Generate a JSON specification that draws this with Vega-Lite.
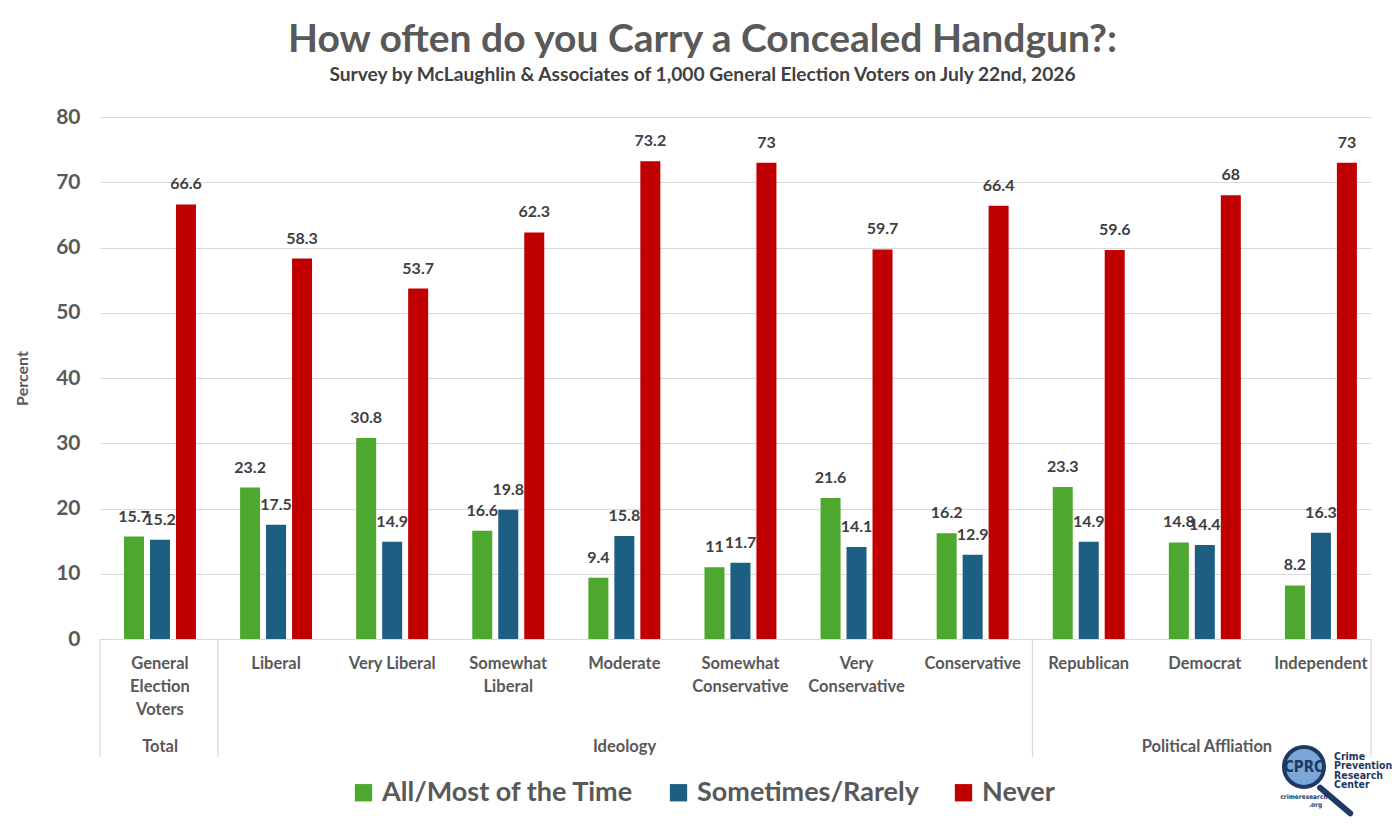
{
  "$schema": "https://vega.github.io/schema/vega-lite/v6.json",
  "width": 1271,
  "height": 522,
  "autosize": "none",
  "padding": {"left": 100, "top": 117, "right": 29, "bottom": 187},
  "config": {"view": {"stroke": null}, "font": "Lato"},
  "title": {
    "text": "How often do you Carry a Concealed Handgun?:",
    "subtitle": "Survey by McLaughlin & Associates of 1,000 General Election Voters on July 22nd, 2026",
    "fontSize": 39,
    "fontWeight": "bold",
    "color": "#595959",
    "subtitleFontSize": 19.2,
    "subtitleFontWeight": "bold",
    "subtitleColor": "#404040",
    "subtitlePadding": 6,
    "anchor": "middle",
    "dx": -33,
    "offset": 21
  },
  "datasets": {
    "bars": [
      {"cat": "General Election Voters", "series": "All/Most of the Time", "value": 15.7},
      {"cat": "General Election Voters", "series": "Sometimes/Rarely", "value": 15.2},
      {"cat": "General Election Voters", "series": "Never", "value": 66.6},
      {"cat": "Liberal", "series": "All/Most of the Time", "value": 23.2},
      {"cat": "Liberal", "series": "Sometimes/Rarely", "value": 17.5},
      {"cat": "Liberal", "series": "Never", "value": 58.3},
      {"cat": "Very Liberal", "series": "All/Most of the Time", "value": 30.8},
      {"cat": "Very Liberal", "series": "Sometimes/Rarely", "value": 14.9},
      {"cat": "Very Liberal", "series": "Never", "value": 53.7},
      {"cat": "Somewhat Liberal", "series": "All/Most of the Time", "value": 16.6},
      {"cat": "Somewhat Liberal", "series": "Sometimes/Rarely", "value": 19.8},
      {"cat": "Somewhat Liberal", "series": "Never", "value": 62.3},
      {"cat": "Moderate", "series": "All/Most of the Time", "value": 9.4},
      {"cat": "Moderate", "series": "Sometimes/Rarely", "value": 15.8},
      {"cat": "Moderate", "series": "Never", "value": 73.2},
      {"cat": "Somewhat Conservative", "series": "All/Most of the Time", "value": 11},
      {"cat": "Somewhat Conservative", "series": "Sometimes/Rarely", "value": 11.7},
      {"cat": "Somewhat Conservative", "series": "Never", "value": 73},
      {"cat": "Very Conservative", "series": "All/Most of the Time", "value": 21.6},
      {"cat": "Very Conservative", "series": "Sometimes/Rarely", "value": 14.1},
      {"cat": "Very Conservative", "series": "Never", "value": 59.7},
      {"cat": "Conservative", "series": "All/Most of the Time", "value": 16.2},
      {"cat": "Conservative", "series": "Sometimes/Rarely", "value": 12.9},
      {"cat": "Conservative", "series": "Never", "value": 66.4},
      {"cat": "Republican", "series": "All/Most of the Time", "value": 23.3},
      {"cat": "Republican", "series": "Sometimes/Rarely", "value": 14.9},
      {"cat": "Republican", "series": "Never", "value": 59.6},
      {"cat": "Democrat", "series": "All/Most of the Time", "value": 14.8},
      {"cat": "Democrat", "series": "Sometimes/Rarely", "value": 14.4},
      {"cat": "Democrat", "series": "Never", "value": 68},
      {"cat": "Independent", "series": "All/Most of the Time", "value": 8.2},
      {"cat": "Independent", "series": "Sometimes/Rarely", "value": 16.3},
      {"cat": "Independent", "series": "Never", "value": 73}
    ],
    "cats": [
      {"cat": "General Election Voters", "lab": "General|Election|Voters"},
      {"cat": "Liberal", "lab": "Liberal"},
      {"cat": "Very Liberal", "lab": "Very Liberal"},
      {"cat": "Somewhat Liberal", "lab": "Somewhat|Liberal"},
      {"cat": "Moderate", "lab": "Moderate"},
      {"cat": "Somewhat Conservative", "lab": "Somewhat|Conservative"},
      {"cat": "Very Conservative", "lab": "Very|Conservative"},
      {"cat": "Conservative", "lab": "Conservative"},
      {"cat": "Republican", "lab": "Republican"},
      {"cat": "Democrat", "lab": "Democrat"},
      {"cat": "Independent", "lab": "Independent"}
    ],
    "groups": [
      {"g": "Total", "pos": 0.52},
      {"g": "Ideology", "pos": 4.54},
      {"g": "Political Affliation", "pos": 9.58}
    ],
    "dividers": [
      {"pos": 0},
      {"pos": 1.02},
      {"pos": 8.07},
      {"pos": 11}
    ],
    "logo": [
      {"pos": 10.42, "lv": -19.6, "hx": 10.56, "hy": -22.8, "pos2": 10.82, "lv2": -26.7}
    ],
    "logoname": [
      {"pos": 10.68, "lv": -17.3, "t": "Crime|Prevention|Research|Center"}
    ],
    "logomark": [
      {"pos": 10.42, "lv": -19.6, "t": "CPRC", "fs": 15},
      {"pos": 10.42, "lv": -24.2, "t": "crimeresearch", "fs": 6.5},
      {"pos": 10.52, "lv": -25.4, "t": ".org", "fs": 6.5}
    ]
  },
  "layer": [
    {
      "data": {"name": "bars"},
      "mark": {"type": "bar"},
      "encoding": {
        "x": {"field": "cat", "type": "nominal", "sort": null, "scale": {"type": "band", "paddingInner": 0.38, "paddingOuter": 0.164, "align": 0.63}, "axis": null},
        "xOffset": {"field": "series", "type": "nominal", "sort": ["All/Most of the Time", "Sometimes/Rarely", "Never"], "scale": {"paddingInner": 0.23, "paddingOuter": 0}},
        "y": {
          "field": "value",
          "type": "quantitative",
          "scale": {"domain": [0, 80], "nice": false},
          "axis": {
            "title": "Percent",
            "titleFontSize": 16,
            "titleFontWeight": "bold",
            "titleColor": "#595959",
            "titlePadding": 25,
            "values": [0, 10, 20, 30, 40, 50, 60, 70, 80],
            "labelFontSize": 21,
            "labelFontWeight": "bold",
            "labelColor": "#595959",
            "labelPadding": 20,
            "ticks": false,
            "domain": false,
            "gridColor": "#d9d9d9",
            "gridWidth": 1.2
          }
        },
        "color": {
          "field": "series",
          "type": "nominal",
          "scale": {"domain": ["All/Most of the Time", "Sometimes/Rarely", "Never"], "range": ["#4ea72e", "#1c5f82", "#c00000"]},
          "legend": {
            "orient": "none",
            "legendX": 250,
            "legendY": 662,
            "direction": "horizontal",
            "title": null,
            "symbolType": "square",
            "symbolSize": 300,
            "symbolStrokeWidth": 0,
            "labelFontSize": 27,
            "labelFontWeight": "bold",
            "labelColor": "#595959",
            "labelLimit": 0,
            "labelOffset": 5,
            "columnPadding": 31
          }
        }
      }
    },
    {
      "data": {"name": "bars"},
      "mark": {"type": "text", "baseline": "bottom", "dy": -12, "fontSize": 16, "fontWeight": "bold", "color": "#404040"},
      "encoding": {
        "x": {"field": "cat", "type": "nominal", "sort": null, "scale": {"type": "band", "paddingInner": 0.38, "paddingOuter": 0.164, "align": 0.63}, "axis": null},
        "xOffset": {"field": "series", "type": "nominal", "sort": ["All/Most of the Time", "Sometimes/Rarely", "Never"], "scale": {"type": "band", "paddingInner": 0.23, "paddingOuter": 0}},
        "y": {"field": "value", "type": "quantitative", "scale": {"domain": [0, 80], "nice": false}},
        "text": {"field": "value", "type": "quantitative"}
      }
    },
    {
      "data": {"name": "cats"},
      "mark": {"type": "text", "baseline": "top", "lineBreak": "|", "lineHeight": 23, "fontSize": 16.5, "fontWeight": "bold", "color": "#595959"},
      "encoding": {
        "x": {"field": "cat", "type": "nominal", "sort": null, "scale": {"type": "band", "paddingInner": 0.38, "paddingOuter": 0.164, "align": 0.63}, "axis": null},
        "y": {"datum": -2.6, "type": "quantitative", "scale": {"domain": [0, 80], "nice": false}},
        "text": {"field": "lab"}
      }
    },
    {
      "data": {"name": "dividers"},
      "mark": {"type": "rule", "color": "#d9d9d9", "strokeWidth": 1.2},
      "encoding": {
        "x": {"field": "pos", "type": "quantitative", "scale": {"domain": [0, 11], "nice": false, "zero": false}, "axis": null},
        "y": {"datum": 0, "type": "quantitative", "scale": {"domain": [0, 80], "nice": false}},
        "y2": {"datum": -18.1}
      }
    },
    {
      "data": {"name": "groups"},
      "mark": {"type": "text", "baseline": "middle", "fontSize": 16.5, "fontWeight": "bold", "color": "#595959"},
      "encoding": {
        "x": {"field": "pos", "type": "quantitative", "scale": {"domain": [0, 11], "nice": false, "zero": false}, "axis": null},
        "y": {"datum": -16.5, "type": "quantitative", "scale": {"domain": [0, 80], "nice": false}},
        "text": {"field": "g"}
      }
    },
    {
      "data": {"name": "logo"},
      "mark": {"type": "rule", "color": "#1f3864", "strokeWidth": 6, "strokeCap": "round"},
      "encoding": {
        "x": {"field": "hx", "type": "quantitative", "scale": {"domain": [0, 11], "nice": false, "zero": false}, "axis": null},
        "x2": {"field": "pos2"},
        "y": {"field": "hy", "type": "quantitative", "scale": {"domain": [0, 80], "nice": false}},
        "y2": {"field": "lv2"}
      }
    },
    {
      "data": {"name": "logo"},
      "mark": {"type": "point", "shape": "circle", "filled": true, "fill": "#7ba7d6", "stroke": "#1f3864", "strokeWidth": 4, "size": 1600, "opacity": 1},
      "encoding": {
        "x": {"field": "pos", "type": "quantitative", "scale": {"domain": [0, 11], "nice": false, "zero": false}, "axis": null},
        "y": {"field": "lv", "type": "quantitative", "scale": {"domain": [0, 80], "nice": false}}
      }
    },
    {
      "data": {"name": "logomark"},
      "mark": {"type": "text", "baseline": "middle", "align": "center", "fontWeight": "bold", "color": "#1f3864", "font": "DejaVu Sans Condensed, Liberation Sans, sans-serif"},
      "encoding": {
        "x": {"field": "pos", "type": "quantitative", "scale": {"domain": [0, 11], "nice": false, "zero": false}, "axis": null},
        "y": {"field": "lv", "type": "quantitative", "scale": {"domain": [0, 80], "nice": false}},
        "text": {"field": "t"},
        "size": {"field": "fs", "type": "quantitative", "scale": null, "legend": null}
      }
    },
    {
      "data": {"name": "logoname"},
      "mark": {"type": "text", "baseline": "top", "align": "left", "lineBreak": "|", "lineHeight": 9.5, "fontSize": 10.5, "fontWeight": "bold", "color": "#1f3864", "font": "DejaVu Sans Condensed, Liberation Sans, sans-serif"},
      "encoding": {
        "x": {"field": "pos", "type": "quantitative", "scale": {"domain": [0, 11], "nice": false, "zero": false}, "axis": null},
        "y": {"field": "lv", "type": "quantitative", "scale": {"domain": [0, 80], "nice": false}},
        "text": {"field": "t"}
      }
    }
  ],
  "resolve": {"scale": {"x": "independent"}}
}
